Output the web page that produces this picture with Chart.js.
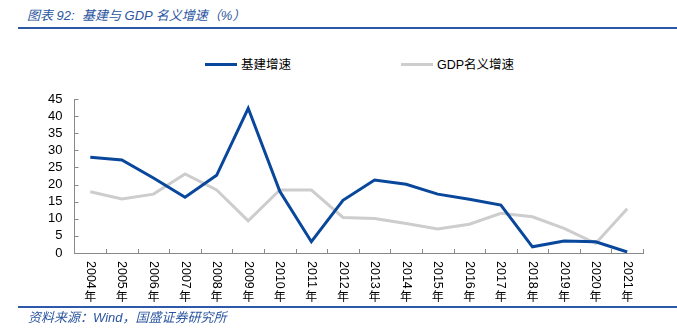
<!DOCTYPE html>
<html>
<head>
<meta charset="utf-8">
<script src="https://cdn.jsdelivr.net/npm/chart.js@4"></script>
<style>
  body{margin:0;background:#fff;width:677px;height:336px;position:relative;overflow:hidden;
       font-family:"Liberation Sans","Noto Sans CJK SC",sans-serif;}
  #title{position:absolute;left:27px;top:5px;font-size:13px;font-style:italic;color:#2c56a0;
         font-family:"Liberation Sans","Noto Sans CJK SC",sans-serif;white-space:nowrap;}
  #topline{position:absolute;left:18px;right:0;top:27px;height:2px;background:#2c5aa8;}
  #botline{position:absolute;left:18px;right:0;top:306px;height:1.5px;background:#2c5aa8;}
  #source{position:absolute;left:28px;top:307px;font-size:13px;font-style:italic;color:#2c56a0;white-space:nowrap;}
  #chart{position:absolute;left:0;top:0;}
  .lg{position:absolute;top:54px;font-size:12.5px;color:#000;white-space:nowrap;}
  .lg i{display:inline-block;width:32px;height:3px;vertical-align:middle;margin-right:4px;position:relative;top:-1px;}
</style>
</head>
<body>
<div id="title">图表 92:&nbsp;&nbsp;基建与 GDP 名义增速（%）</div>
<div id="topline"></div>
<div class="lg" style="left:205px"><i style="background:#08479b"></i>基建增速</div>
<div class="lg" style="left:401px"><i style="background:#cdcdcd"></i>GDP名义增速</div>
<canvas id="chart" width="677" height="336"></canvas>
<div id="botline"></div>
<div id="source">资料来源：Wind，国盛证券研究所</div>
<script>
const years = ["2004","2005","2006","2007","2008","2009","2010","2011","2012",
               "2013","2014","2015","2016","2017","2018","2019","2020","2021"];
const infraGrowth = [28.0,27.2,21.9,16.3,22.7,42.3,18.0,3.3,15.4,
                     21.3,20.1,17.2,15.7,14.0,1.8,3.5,3.3,0.3];
const gdpNominal = [17.9,15.8,17.2,23.1,18.4,9.4,18.4,18.4,10.4,
                    10.1,8.6,7.0,8.4,11.6,10.6,7.2,2.8,12.9];
const yTicks = [0,5,10,15,20,25,30,35,40,45];

const AXIS = "#898989";

// inward tick marks + vertical-style year labels (digits rotated, 年 upright)
const axisDecor = {
  id:"axisDecor",
  afterDraw(chart){
    const {ctx, scales:{x,y}} = chart;
    ctx.save();
    ctx.strokeStyle = AXIS; ctx.lineWidth = 1;
    ctx.beginPath();
    yTicks.forEach(v=>{
      const py = Math.round(y.getPixelForValue(v))+0.5;
      ctx.moveTo(x.left, py); ctx.lineTo(x.left+4, py);
    });
    const step = (x.right-x.left)/years.length;
    for(let i=1;i<=years.length;i++){
      const px = Math.round(x.left+i*step)+0.5;
      ctx.moveTo(px, y.bottom); ctx.lineTo(px, y.bottom-4);
    }
    ctx.stroke();

    ctx.fillStyle = "#000";
    years.forEach((yr,i)=>{
      const cx = x.getPixelForValue(i);
      ctx.save();
      ctx.translate(cx, 261);
      ctx.rotate(Math.PI/2);
      ctx.font = '12.5px "Liberation Sans", sans-serif';
      ctx.textAlign = "left"; ctx.textBaseline = "middle";
      ctx.fillText(yr, 0, 0);
      ctx.restore();
      ctx.font = '12px "Noto Sans CJK SC", sans-serif';
      ctx.textAlign = "center"; ctx.textBaseline = "middle";
      ctx.fillText("年", cx, 296);
    });
    ctx.restore();
  }
};

new Chart(document.getElementById("chart"),{
  type:"line",
  data:{
    labels:years,
    datasets:[
      {label:"基建增速", data:infraGrowth, borderColor:"#08479b", borderWidth:3,
       pointRadius:0, tension:0, order:1},
      {label:"GDP名义增速", data:gdpNominal, borderColor:"#cdcdcd", borderWidth:3,
       pointRadius:0, tension:0, order:2}
    ]
  },
  options:{
    responsive:false,
    animation:false,
    layout:{padding:{left:0,right:34,top:99,bottom:0}},
    plugins:{legend:{display:false}, tooltip:{enabled:false}},
    scales:{
      x:{
        offset:true,
        grid:{display:true, drawOnChartArea:false, drawTicks:false},
        border:{display:true, color:AXIS},
        ticks:{display:false},
        afterFit:s=>{ s.height = 83; }
      },
      y:{
        min:0, max:45,
        grid:{display:true, drawOnChartArea:false, drawTicks:false},
        border:{display:true, color:AXIS},
        ticks:{stepSize:5, padding:12, color:"#000", autoSkip:false,
               font:{family:"Liberation Sans", size:13}},
        afterFit:s=>{ s.width = 74.5; }
      }
    }
  },
  plugins:[axisDecor]
});
</script>
</body>
</html>
